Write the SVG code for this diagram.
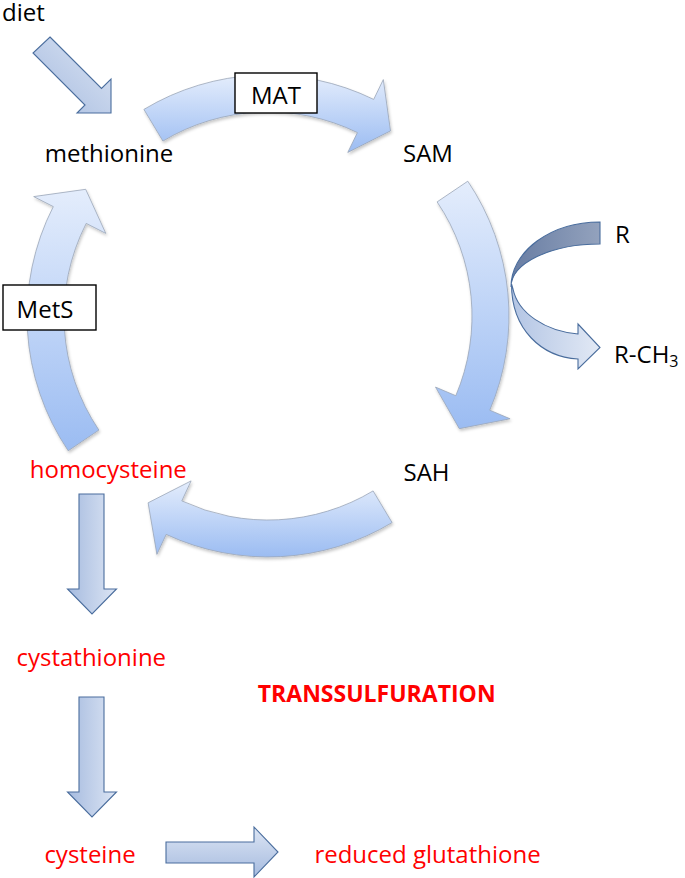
<svg xmlns="http://www.w3.org/2000/svg" width="685" height="878" viewBox="0 0 685 878">
<style>
text{font-family:"Open Sans","Liberation Sans",sans-serif;font-size:24px;fill:#000}
.red{fill:#ff0000}
.mid{text-anchor:middle}
.bold{font-weight:bold;font-size:23px}
.circ{fill:url(#gCirc);stroke:#9aa6b8;stroke-width:0.8;filter:url(#sh)}
.str{stroke:#4a6d9d;stroke-width:1.1;stroke-linejoin:miter}
.box{fill:#fff;stroke:#000;stroke-width:1.4}
</style>
<defs>
<linearGradient id="gCirc" x1="0" y1="0" x2="0" y2="1">
<stop offset="0" stop-color="#e4edfc"/>
<stop offset="1" stop-color="#9bbcf2"/>
</linearGradient>
<linearGradient id="gDown" x1="0" y1="0" x2="1" y2="0">
<stop offset="0" stop-color="#a6bbdf"/>
<stop offset="1" stop-color="#dce5f4"/>
</linearGradient>
<linearGradient id="gRight" x1="0" y1="0" x2="0" y2="1">
<stop offset="0" stop-color="#dce5f4"/>
<stop offset="1" stop-color="#a6bbdf"/>
</linearGradient>
<linearGradient id="gDiag" x1="0" y1="1" x2="1" y2="0">
<stop offset="0" stop-color="#a6bbdf"/>
<stop offset="1" stop-color="#dce5f4"/>
</linearGradient>
<linearGradient id="gDark" x1="0" y1="0" x2="1" y2="0">
<stop offset="0" stop-color="#687da3"/>
<stop offset="1" stop-color="#93a2bd"/>
</linearGradient>
<linearGradient id="gLight" x1="0" y1="0" x2="1" y2="0">
<stop offset="0" stop-color="#b3c5e4"/>
<stop offset="1" stop-color="#e2e9f5"/>
</linearGradient>
<filter id="sh" x="-10%" y="-10%" width="130%" height="130%">
<feDropShadow dx="1" dy="2" stdDeviation="1.5" flood-color="#000" flood-opacity="0.22"/>
</filter>
</defs>

<g id="connectors">
<path id="arrow-diet" class="str" fill="url(#gDiag)" d="M50,37 L101.5,88.5 L111,79 L111,113 L77,113 L85,105 L33,53 Z"/>
<path id="arrow-mat" class="circ" d="M143.9,109.4 A241,241 0 0 1 373.7,99.4 L383.3,79.6 L390.5,130.9 L347.8,152.4 L357.4,132.6 A204,204 0 0 0 162.9,141.1 Z"/>
<path id="arrow-sam-sah" class="circ" d="M467.8,181.2 A241,241 0 0 1 489.8,410.2 L510.1,418.8 L459.3,428.7 L435.5,387.1 L455.8,395.7 A204,204 0 0 0 437.1,201.9 Z"/>
<path id="arrow-sah-hcy" class="circ" d="M392.1,522.6 A241,241 0 0 1 166.2,534.4 L156.9,554.4 L148.1,502.8 L191.1,480.9 L181.8,500.9 A204,204 0 0 0 373.1,490.9 Z"/>
<path id="arrow-mets" class="circ" d="M68.2,450.8 A241,241 0 0 1 53.3,206.6 L33.7,196.6 L85.7,189.3 L105.8,233.4 L86.2,223.4 A204,204 0 0 0 98.9,430.1 Z"/>
<g id="arrow-methyl">
<path class="str" fill="url(#gLight)" d="M511.5,284 C511.5,330 542,357 578,359 L578,369 L600,347.5 L578,324 L578,334 C545,331 518,313 513,289 Z"/>
<path class="str" fill="url(#gDark)" d="M600,222 A89,65 0 0 0 511,287 A89,43 0 0 1 600,244 Z"/>
</g>
<path id="arrow-hcy-cysta" class="str" fill="url(#gDown)" d="M79,494 L104,494 L104,589 L116.5,589 L92,614 L67.5,589 L79,589 Z"/>
<path id="arrow-cysta-cys" class="str" fill="url(#gDown)" d="M79,697 L104,697 L104,792 L116.5,792 L92,817 L67.5,792 L79,792 Z"/>
<path id="arrow-cys-gsh" class="str" fill="url(#gRight)" d="M166,842 L254,842 L254,827 L278,852 L254,877 L254,863 L166,863 Z"/>
</g>

<g id="diet"><text x="2" y="21">diet</text></g>
<g id="methionine"><text x="109" y="162" class="mid">methionine</text></g>
<g id="MAT"><rect class="box" x="235" y="73" width="82" height="40"/><text x="276" y="104" class="mid">MAT</text></g>
<g id="SAM"><text x="428" y="162" class="mid">SAM</text></g>
<g id="R"><text x="615" y="243">R</text></g>
<g id="R-CH3"><text x="614" y="363">R-CH<tspan font-size="16" dy="4">3</tspan></text></g>
<g id="SAH"><text x="426.5" y="481" class="mid">SAH</text></g>
<g id="MetS"><rect class="box" x="3" y="285" width="93" height="45"/><text x="45" y="318" class="mid">MetS</text></g>
<g id="homocysteine"><text x="108.3" y="478" class="mid red">homocysteine</text></g>
<g id="cystathionine"><text x="91.3" y="666" class="mid red">cystathionine</text></g>
<g id="transsulfuration"><text x="376.7" y="702" class="mid red bold">TRANSSULFURATION</text></g>
<g id="cysteine"><text x="90" y="863" class="mid red">cysteine</text></g>
<g id="glutathione"><text x="427.5" y="863" class="mid red">reduced glutathione</text></g>
</svg>
